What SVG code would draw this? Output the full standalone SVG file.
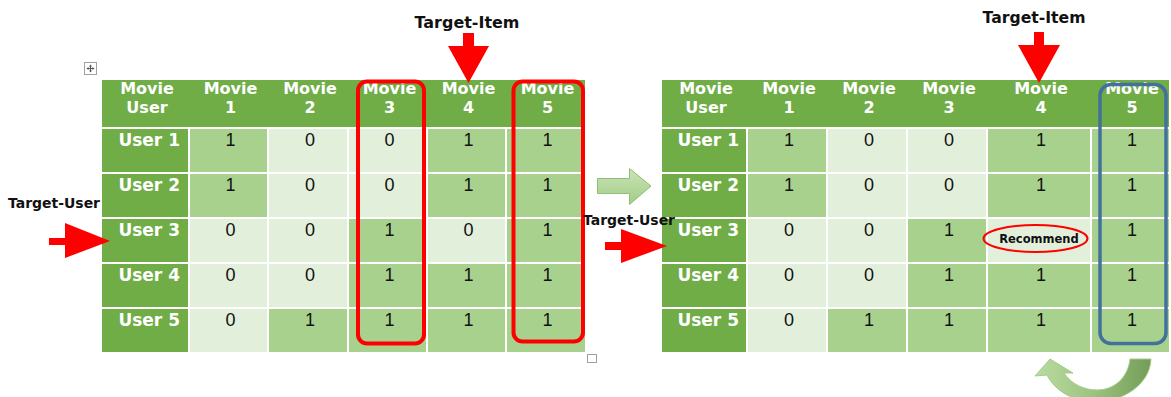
<svg xmlns="http://www.w3.org/2000/svg" width="1171" height="397" viewBox="0 0 1171 397">
  <style>
    .hdr { fill: #70ad47; }
    .one { fill: #a9d18e; }
    .zero { fill: #e2efda; }
    .grid { stroke: #ffffff; stroke-width: 2; }
    .htxt { font-family: "DejaVu Sans", "Liberation Sans", sans-serif; font-weight: bold; font-size: 16px; fill: #ffffff; text-anchor: middle; }
    .utxt { font-family: "DejaVu Sans", "Liberation Sans", sans-serif; font-weight: bold; font-size: 17px; fill: #ffffff; text-anchor: end; }
    .num { font-family: "Liberation Sans", Arial, sans-serif; font-size: 18px; fill: #111111; text-anchor: middle; }
    .lbl { font-family: "DejaVu Sans", "Liberation Sans", sans-serif; font-weight: bold; fill: #111111; }
    .red { fill: #ff0000; }
    .redbox { fill: none; stroke: #ff0000; stroke-width: 4; }
    .bluebox { fill: none; stroke: #41719c; stroke-width: 3.5; }
    .handle { fill: #ffffff; stroke: #a0a0a0; stroke-width: 1; }
  </style>
  <defs>
    <linearGradient id="gBlock" x1="0" y1="0" x2="0" y2="1">
      <stop offset="0" stop-color="#c9e3b8"/>
      <stop offset="1" stop-color="#a4cd87"/>
    </linearGradient>
    <linearGradient id="gCurve" x1="0" y1="0" x2="1" y2="0">
      <stop offset="0" stop-color="#b9dca1"/>
      <stop offset="0.5" stop-color="#9cc47f"/>
      <stop offset="1" stop-color="#739c58"/>
    </linearGradient>
  </defs>

  <!-- table move handle and resize handle -->
  <g id="move-handle">
    <rect class="handle" x="84.5" y="62.5" width="12" height="12"/>
    <path d="M90.5 65 V72 M87 68.5 H94" stroke="#555" stroke-width="1" fill="none"/>
    <path d="M90.5 64.5 l-1.5 2 h3 z M90.5 72.5 l-1.5 -2 h3 z M86.5 68.5 l2 -1.5 v3 z M94.5 68.5 l-2 -1.5 v3 z" fill="#555"/>
  </g>
  <g id="resize-handle">
    <rect class="handle" x="587.5" y="354.5" width="9" height="8"/>
  </g>

  <!-- left rating matrix -->
  <g id="table-left">
    <rect class="hdr" x="102" y="80" width="483" height="47"/>
    <rect class="hdr" x="102" y="129" width="86" height="43"/>
    <rect class="hdr" x="102" y="174" width="86" height="43"/>
    <rect class="hdr" x="102" y="219" width="86" height="43"/>
    <rect class="hdr" x="102" y="264" width="86" height="43"/>
    <rect class="hdr" x="102" y="309" width="86" height="43"/>
    <!-- row 1 -->
    <rect class="one" x="190" y="129" width="77" height="43"/>
    <rect class="zero" x="269" y="129" width="78" height="43"/>
    <rect class="zero" x="349" y="129" width="77" height="43"/>
    <rect class="one" x="428" y="129" width="77" height="43"/>
    <rect class="one" x="507" y="129" width="78" height="43"/>
    <!-- row 2 -->
    <rect class="one" x="190" y="174" width="77" height="43"/>
    <rect class="zero" x="269" y="174" width="78" height="43"/>
    <rect class="zero" x="349" y="174" width="77" height="43"/>
    <rect class="one" x="428" y="174" width="77" height="43"/>
    <rect class="one" x="507" y="174" width="78" height="43"/>
    <!-- row 3 -->
    <rect class="zero" x="190" y="219" width="77" height="43"/>
    <rect class="zero" x="269" y="219" width="78" height="43"/>
    <rect class="one" x="349" y="219" width="77" height="43"/>
    <rect class="zero" x="428" y="219" width="77" height="43"/>
    <rect class="one" x="507" y="219" width="78" height="43"/>
    <!-- row 4 -->
    <rect class="zero" x="190" y="264" width="77" height="43"/>
    <rect class="zero" x="269" y="264" width="78" height="43"/>
    <rect class="one" x="349" y="264" width="77" height="43"/>
    <rect class="one" x="428" y="264" width="77" height="43"/>
    <rect class="one" x="507" y="264" width="78" height="43"/>
    <!-- row 5 -->
    <rect class="zero" x="190" y="309" width="77" height="43"/>
    <rect class="one" x="269" y="309" width="78" height="43"/>
    <rect class="one" x="349" y="309" width="77" height="43"/>
    <rect class="one" x="428" y="309" width="77" height="43"/>
    <rect class="one" x="507" y="309" width="78" height="43"/>

    <text class="htxt" x="147" y="94">Movie</text>
    <text class="htxt" x="147" y="113">User</text>
    <text class="htxt" x="230.5" y="94">Movie</text><text class="htxt" x="230.5" y="113">1</text>
    <text class="htxt" x="310" y="94">Movie</text><text class="htxt" x="310" y="113">2</text>
    <text class="htxt" x="389.5" y="94">Movie</text><text class="htxt" x="389.5" y="113">3</text>
    <text class="htxt" x="468.5" y="94">Movie</text><text class="htxt" x="468.5" y="113">4</text>
    <text class="htxt" x="547.5" y="94">Movie</text><text class="htxt" x="547.5" y="113">5</text>

    <text class="utxt" x="180" y="146">User 1</text>
    <text class="utxt" x="180" y="191">User 2</text>
    <text class="utxt" x="180" y="236">User 3</text>
    <text class="utxt" x="180" y="281">User 4</text>
    <text class="utxt" x="180" y="326">User 5</text>

    <text class="num" x="230.5" y="146">1</text><text class="num" x="310" y="146">0</text><text class="num" x="389.5" y="146">0</text><text class="num" x="468.5" y="146">1</text><text class="num" x="547.5" y="146">1</text>
    <text class="num" x="230.5" y="191">1</text><text class="num" x="310" y="191">0</text><text class="num" x="389.5" y="191">0</text><text class="num" x="468.5" y="191">1</text><text class="num" x="547.5" y="191">1</text>
    <text class="num" x="230.5" y="236">0</text><text class="num" x="310" y="236">0</text><text class="num" x="389.5" y="236">1</text><text class="num" x="468.5" y="236">0</text><text class="num" x="547.5" y="236">1</text>
    <text class="num" x="230.5" y="281">0</text><text class="num" x="310" y="281">0</text><text class="num" x="389.5" y="281">1</text><text class="num" x="468.5" y="281">1</text><text class="num" x="547.5" y="281">1</text>
    <text class="num" x="230.5" y="326">0</text><text class="num" x="310" y="326">1</text><text class="num" x="389.5" y="326">1</text><text class="num" x="468.5" y="326">1</text><text class="num" x="547.5" y="326">1</text>
  </g>

  <!-- highlighted columns on the left matrix -->
  <g id="highlight-movie3">
    <rect class="redbox" x="358" y="81.5" width="66" height="262" rx="9"/>
  </g>
  <g id="highlight-movie5">
    <rect class="redbox" x="513.5" y="81.5" width="69.5" height="260" rx="9"/>
  </g>

  <!-- right rating matrix -->
  <g id="table-right">
    <rect class="hdr" x="662" y="80" width="507" height="47"/>
    <rect class="hdr" x="662" y="129" width="84" height="43"/>
    <rect class="hdr" x="662" y="174" width="84" height="43"/>
    <rect class="hdr" x="662" y="219" width="84" height="43"/>
    <rect class="hdr" x="662" y="264" width="84" height="43"/>
    <rect class="hdr" x="662" y="309" width="84" height="43"/>
    <!-- row 1 -->
    <rect class="one" x="748" y="129" width="78" height="43"/>
    <rect class="zero" x="828" y="129" width="78" height="43"/>
    <rect class="zero" x="908" y="129" width="78" height="43"/>
    <rect class="one" x="988" y="129" width="102" height="43"/>
    <rect class="one" x="1092" y="129" width="77" height="43"/>
    <!-- row 2 -->
    <rect class="one" x="748" y="174" width="78" height="43"/>
    <rect class="zero" x="828" y="174" width="78" height="43"/>
    <rect class="zero" x="908" y="174" width="78" height="43"/>
    <rect class="one" x="988" y="174" width="102" height="43"/>
    <rect class="one" x="1092" y="174" width="77" height="43"/>
    <!-- row 3 -->
    <rect class="zero" x="748" y="219" width="78" height="43"/>
    <rect class="zero" x="828" y="219" width="78" height="43"/>
    <rect class="one" x="908" y="219" width="78" height="43"/>
    <rect class="zero" x="988" y="219" width="102" height="43"/>
    <rect class="one" x="1092" y="219" width="77" height="43"/>
    <!-- row 4 -->
    <rect class="zero" x="748" y="264" width="78" height="43"/>
    <rect class="zero" x="828" y="264" width="78" height="43"/>
    <rect class="one" x="908" y="264" width="78" height="43"/>
    <rect class="one" x="988" y="264" width="102" height="43"/>
    <rect class="one" x="1092" y="264" width="77" height="43"/>
    <!-- row 5 -->
    <rect class="zero" x="748" y="309" width="78" height="43"/>
    <rect class="one" x="828" y="309" width="78" height="43"/>
    <rect class="one" x="908" y="309" width="78" height="43"/>
    <rect class="one" x="988" y="309" width="102" height="43"/>
    <rect class="one" x="1092" y="309" width="77" height="43"/>

    <text class="htxt" x="706" y="94">Movie</text>
    <text class="htxt" x="706" y="113">User</text>
    <text class="htxt" x="789" y="94">Movie</text><text class="htxt" x="789" y="113">1</text>
    <text class="htxt" x="869" y="94">Movie</text><text class="htxt" x="869" y="113">2</text>
    <text class="htxt" x="949" y="94">Movie</text><text class="htxt" x="949" y="113">3</text>
    <text class="htxt" x="1041" y="94">Movie</text><text class="htxt" x="1041" y="113">4</text>
    <text class="htxt" x="1132" y="94">Movie</text><text class="htxt" x="1132" y="113">5</text>

    <text class="utxt" x="739" y="146">User 1</text>
    <text class="utxt" x="739" y="191">User 2</text>
    <text class="utxt" x="739" y="236">User 3</text>
    <text class="utxt" x="739" y="281">User 4</text>
    <text class="utxt" x="739" y="326">User 5</text>

    <text class="num" x="789" y="146">1</text><text class="num" x="869" y="146">0</text><text class="num" x="949" y="146">0</text><text class="num" x="1041" y="146">1</text><text class="num" x="1132" y="146">1</text>
    <text class="num" x="789" y="191">1</text><text class="num" x="869" y="191">0</text><text class="num" x="949" y="191">0</text><text class="num" x="1041" y="191">1</text><text class="num" x="1132" y="191">1</text>
    <text class="num" x="789" y="236">0</text><text class="num" x="869" y="236">0</text><text class="num" x="949" y="236">1</text><text class="num" x="1132" y="236">1</text>
    <text class="num" x="789" y="281">0</text><text class="num" x="869" y="281">0</text><text class="num" x="949" y="281">1</text><text class="num" x="1041" y="281">1</text><text class="num" x="1132" y="281">1</text>
    <text class="num" x="789" y="326">0</text><text class="num" x="869" y="326">1</text><text class="num" x="949" y="326">1</text><text class="num" x="1041" y="326">1</text><text class="num" x="1132" y="326">1</text>
  </g>

  <!-- recommended entry -->
  <g id="recommend">
    <ellipse cx="1035.5" cy="238.5" rx="52" ry="13.5" fill="none" stroke="#ff0000" stroke-width="2"/>
    <text class="lbl" x="1039" y="243" font-size="11.5" text-anchor="middle">Recommend</text>
  </g>

  <!-- highlighted column on the right matrix -->
  <g id="highlight-right-movie5">
    <rect class="bluebox" x="1100" y="84.5" width="66" height="259" rx="11"/>
  </g>

  <!-- labels -->
  <g id="label-item-left">
    <text class="lbl" x="467" y="28" font-size="15.5" text-anchor="middle" textLength="105" lengthAdjust="spacingAndGlyphs">Target-Item</text>
  </g>
  <g id="label-item-right">
    <text class="lbl" x="1034" y="23" font-size="15.5" text-anchor="middle" textLength="103" lengthAdjust="spacingAndGlyphs">Target-Item</text>
  </g>
  <g id="label-user-left">
    <text class="lbl" x="8" y="208" font-size="14" textLength="92" lengthAdjust="spacingAndGlyphs">Target-User</text>
  </g>
  <g id="label-user-right">
    <text class="lbl" x="583" y="225" font-size="14" textLength="92" lengthAdjust="spacingAndGlyphs">Target-User</text>
  </g>

  <!-- arrows -->
  <g id="connectors">
    <polygon class="red" points="463,33 474,33 474,46 489,46 468.5,83 448,46 463,46"/>
    <polygon class="red" points="1034,32 1044,32 1044,45 1060,45 1039,83 1018,45 1034,45"/>
    <polygon class="red" points="49,238 65,238 65,223 110,241 65,258 65,245 49,245"/>
    <polygon class="red" points="605,242 621,242 621,229 667,246 621,263 621,250 605,250"/>
    <polygon points="597.5,178.5 629.5,178.5 629.5,168.5 651,186 629.5,204.5 629.5,193.5 597.5,193.5" fill="url(#gBlock)" stroke="#8dc070" stroke-width="1"/>
    <path d="M1130 359 L1151 359 C1150 385 1122 402 1095 402 C1074 402 1055 391 1047 375 L1035 376 L1050 359 L1073 373 L1064 373 C1071 384 1084 390 1097 390 C1114 390 1128 378 1130 359 Z" fill="url(#gCurve)" stroke="#a3cc88" stroke-width="1"/>
  </g>
</svg>
